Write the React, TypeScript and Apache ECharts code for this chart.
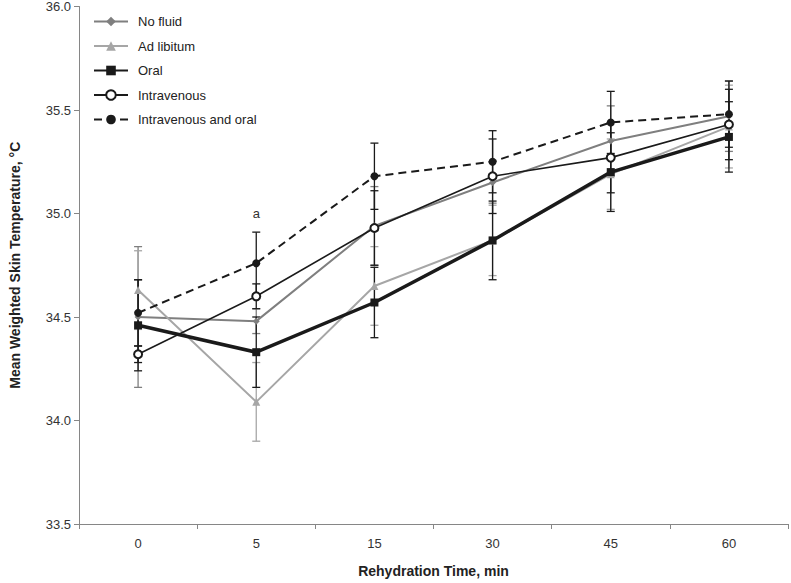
import React, { useEffect, useRef } from "react";
import * as echarts from "echarts";

const categories = ["0", "5", "15", "30", "45", "60"];
const seriesNames = ["No fluid", "Ad libitum", "Oral", "Intravenous", "Intravenous and oral"];

const noFluid = [34.5, 34.48, 34.94, 35.15, 35.35, 35.47];
const adLibitum = [34.63, 34.09, 34.65, 34.87, 35.19, 35.42];
const oral = [34.46, 34.33, 34.57, 34.87, 35.2, 35.37];
const intravenous = [34.32, 34.6, 34.93, 35.18, 35.27, 35.43];
const ivOral = [34.52, 34.76, 35.18, 35.25, 35.44, 35.48];

const noFluidSD = [0.34, 0.06, 0.19, 0.1, 0.17, 0.17];
const adLibitumSD = [0.19, 0.19, 0.19, 0.17, 0.17, 0.2];
const oralSD = [0.22, 0.17, 0.17, 0.19, 0.19, 0.17];
const intravenousSD = [0.04, 0.06, 0.18, 0.18, 0.17, 0.17];
const ivOralSD = [0.16, 0.15, 0.16, 0.15, 0.15, 0.16];

const annotationText = "a";
const annotationCategory = "5";
const annotationValue = 35.0;

const yTicks = [33.5, 34.0, 34.5, 35.0, 35.5, 36.0];

export default function App() {
  const ref = useRef<HTMLDivElement>(null);
  useEffect(() => {
    if (!ref.current) return;
    const chart = echarts.init(ref.current, null, { renderer: "svg" });
    const font = "Liberation Sans, Arial, sans-serif";

    const styles = [
      { name: seriesNames[0], data: noFluid, sd: noFluidSD, color: "#7f7f7f", width: 2, symbol: "diamond", size: 7, dash: "solid" },
      { name: seriesNames[1], data: adLibitum, sd: adLibitumSD, color: "#a6a6a6", width: 2, symbol: "triangle", size: 8, dash: "solid" },
      { name: seriesNames[2], data: oral, sd: oralSD, color: "#1a1a1a", width: 3.5, symbol: "rect", size: 8, dash: "solid" },
      { name: seriesNames[3], data: intravenous, sd: intravenousSD, color: "#1a1a1a", width: 1.6, symbol: "emptyCircle", size: 8, dash: "solid" },
      { name: seriesNames[4], data: ivOral, sd: ivOralSD, color: "#1a1a1a", width: 2, symbol: "circle", size: 8, dash: [8, 5] },
    ];

    const errorSeries = styles.map((s) => ({
      type: "custom",
      name: s.name + " SD",
      z: 1,
      silent: true,
      encode: { x: 0, y: [1, 2] },
      data: s.data.map((v, i) => [i, v - s.sd[i], v + s.sd[i]]),
      renderItem: (params: any, api: any) => {
        const i = api.value(0);
        const lo = api.coord([i, api.value(1)]);
        const hi = api.coord([i, api.value(2)]);
        const hw = 4;
        const st = { stroke: s.color, lineWidth: 1.3 };
        return {
          type: "group",
          children: [
            { type: "line", shape: { x1: hi[0], y1: hi[1], x2: lo[0], y2: lo[1] }, style: st },
            { type: "line", shape: { x1: hi[0] - hw, y1: hi[1], x2: hi[0] + hw, y2: hi[1] }, style: st },
            { type: "line", shape: { x1: lo[0] - hw, y1: lo[1], x2: lo[0] + hw, y2: lo[1] }, style: st },
          ],
        };
      },
    }));

    const lineSeries = styles.map((s, k) => ({
      type: "line",
      name: s.name,
      z: 3 + k,
      data: s.data,
      symbol: s.symbol,
      symbolSize: s.size,
      showSymbol: true,
      itemStyle: { color: s.color, borderColor: s.color, borderWidth: s.symbol === "emptyCircle" ? 1.3 : 0 },
      lineStyle: { color: s.color, width: s.width, type: s.dash },
      markPoint:
        k === 4
          ? {
              symbol: "circle",
              symbolSize: 0,
              data: [{ coord: [annotationCategory, annotationValue] }],
              label: {
                show: true,
                formatter: annotationText,
                position: "inside",
                color: "#333",
                fontFamily: font,
                fontSize: 13,
              },
            }
          : undefined,
    }));

    chart.setOption({
      animation: false,
      backgroundColor: "#ffffff",
      grid: { left: 70, right: 3, top: 1, bottom: 47, containLabel: false },
      legend: {
        orient: "vertical",
        left: 88,
        top: 10,
        itemWidth: 34,
        itemHeight: 12,
        itemGap: 11.5,
        data: seriesNames,
        textStyle: { fontFamily: font, fontSize: 13, color: "#222", padding: [0, 0, 0, 5] },
      },
      xAxis: {
        type: "category",
        data: categories,
        boundaryGap: true,
        name: "Rehydration Time, min",
        nameLocation: "middle",
        nameGap: 40,
        nameTextStyle: { fontFamily: font, fontSize: 14, fontWeight: "bold", color: "#222" },
        axisLine: { lineStyle: { color: "#868686", width: 1 } },
        axisTick: { show: true, length: 5, lineStyle: { color: "#868686" } },
        axisLabel: { fontFamily: font, fontSize: 13, color: "#333", margin: 13 },
        splitLine: { show: false },
      },
      yAxis: {
        type: "value",
        min: yTicks[0],
        max: yTicks[yTicks.length - 1],
        interval: 0.5,
        name: "Mean Weighted Skin Temperature, °C",
        nameLocation: "middle",
        nameGap: 57,
        nameTextStyle: { fontFamily: font, fontSize: 14, fontWeight: "bold", color: "#222" },
        axisLine: { show: true, lineStyle: { color: "#868686", width: 1 } },
        axisTick: { show: true, length: 5, lineStyle: { color: "#868686" } },
        axisLabel: {
          fontFamily: font,
          fontSize: 13,
          color: "#333",
          margin: 8,
          formatter: (v: number) => v.toFixed(1),
        },
        splitLine: { show: false },
      },
      series: [...errorSeries, ...lineSeries],
    });
    return () => chart.dispose();
  }, []);
  return (
    <div
      ref={ref}
      style={{ position: "absolute", left: 0, top: 0, width: 791, height: 583 }}
    />
  );
}
